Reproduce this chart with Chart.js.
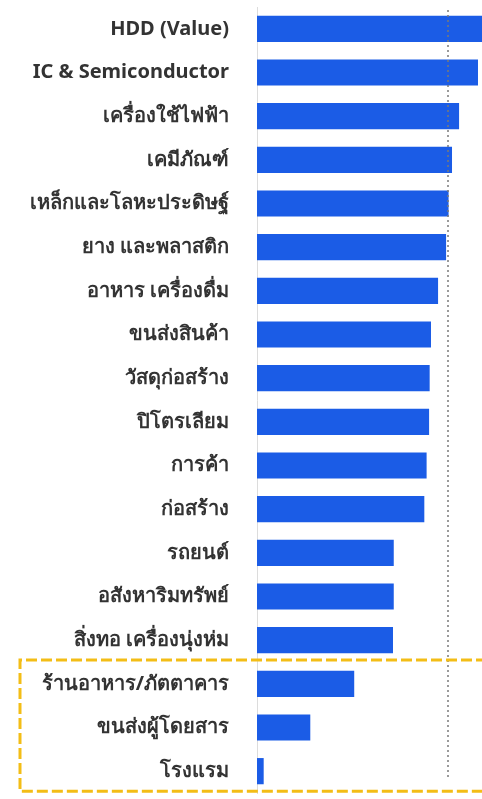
<!DOCTYPE html>
<html>
<head>
<meta charset="utf-8">
<script src="https://cdn.jsdelivr.net/npm/chart.js@4"></script>
<style>
  html, body { margin: 0; padding: 0; background: #fff; }
  #wrap { width: 482px; height: 799px; }
</style>
</head>
<body>
<div id="wrap"><canvas id="mycanvas"></canvas></div>
<script>
// sectors, top to bottom
var sectors = [
	'HDD (Value)', 'IC & Semiconductor', 'เครื่องใช้ไฟฟ้า', 'เคมีภัณฑ์',
	'เหล็กและโลหะประดิษฐ์', 'ยาง และพลาสติก', 'อาหาร เครื่องดื่ม', 'ขนส่งสินค้า',
	'วัสดุก่อสร้าง', 'ปิโตรเลียม', 'การค้า', 'ก่อสร้าง',
	'รถยนต์', 'อสังหาริมทรัพย์', 'สิ่งทอ เครื่องนุ่งห่ม',
	'ร้านอาหาร/ภัตตาคาร', 'ขนส่งผู้โดยสาร', 'โรงแรม'
];
// estimated index level (dotted line = 100)
var level = [
	120, 115.7, 105.8, 102.1,
	100.3, 99, 94.8, 91.1,
	90.4, 90.1, 88.8, 87.6,
	71.6, 71.6, 71.2,
	50.9, 27.9, 3.5
];
var refLevel = 100;
var boxedFrom = 15; // index of first sector inside the yellow box

var refLine = {
	id: 'refLine',
	afterDatasetsDraw: function(chart){
		var c = chart.ctx, x = chart.scales.x, y = chart.scales.y;
		var px = x.getPixelForValue(refLevel);
		c.save();
		c.strokeStyle = '#7a7a7a';
		c.lineWidth = 1.5;
		c.setLineDash([2, 3]);
		c.beginPath();
		c.moveTo(px, chart.chartArea.top + 3);
		c.lineTo(px, y.getPixelForValue(sectors.length - 1) + 7);
		c.stroke();
		c.restore();

		// dashed yellow box round the last group
		var top = y.getPixelForValue(boxedFrom - 0.5) - 2;
		var bot = y.getPixelForValue(sectors.length - 1) + 20;
		c.save();
		c.strokeStyle = '#f3bd16';
		c.lineWidth = 3;
		c.setLineDash([11, 4]);
		c.beginPath();
		c.moveTo(chart.width + 5, top);
		c.lineTo(20, top);
		c.lineTo(20, bot);
		c.lineTo(chart.width + 5, bot);
		c.stroke();
		c.restore();
	}
};

var chartdata = {
	labels: sectors,
	datasets: [
		{
		label: 'level',
		backgroundColor: '#1b5ce6',
		borderWidth: 0,
		barPercentage: 0.6,
		categoryPercentage: 1,
		data: level
		}
	]
};

var ctx = document.getElementById('mycanvas');
var barGraph = new Chart(ctx, {
	type: 'bar',
	data: chartdata,
	plugins: [refLine],
	options: {
		indexAxis: 'y',
		responsive: true,
		maintainAspectRatio: false,
		animation: false,
		layout: { padding: { top: 7, bottom: 6, left: 0, right: 0 } },
		plugins: { legend: { display: false }, tooltip: { enabled: false } },
		scales: {
			x: {
				display: false,
				min: 0,
				max: 117.8
			},
			y: {
				afterFit: function(scale){
					scale.width = 257;
					scale.paddingTop = 0;
					scale.paddingBottom = 0;
				},
				grid: { display: false, drawTicks: false },
				border: { display: true, color: '#dcdcdc', width: 1 },
				ticks: {
					padding: 28,
					color: '#333',
					font: { family: "'Noto Sans', sans-serif", size: 20, weight: 'bold' }
				}
			}
		}
	}
});
</script>
</body>
</html>
